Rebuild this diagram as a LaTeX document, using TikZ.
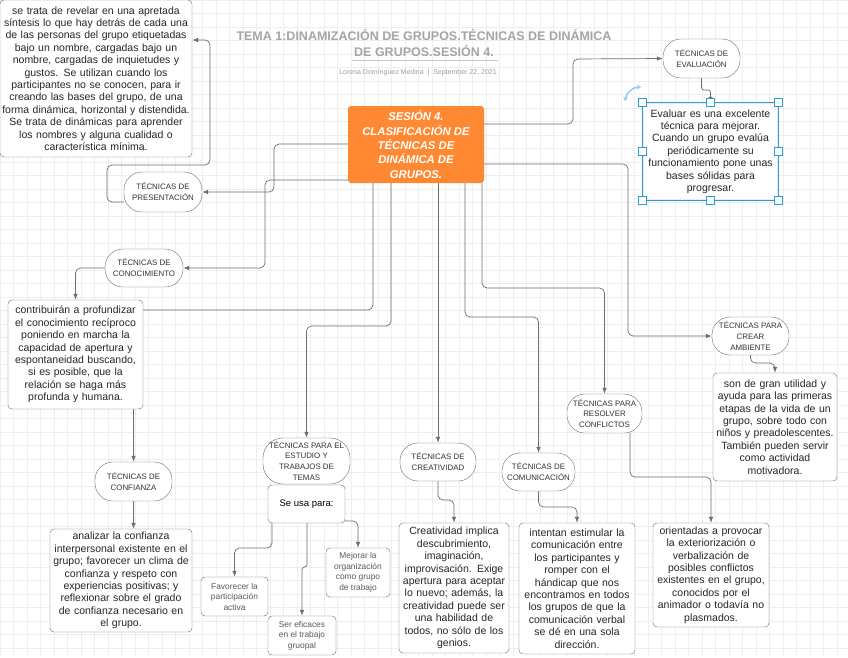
\documentclass[tikz,border=0pt]{standalone}
\usepackage{fontspec}
\setmainfont{Liberation Sans}
\usetikzlibrary{arrows.meta}
\definecolor{naranja}{RGB}{255,136,51}
\definecolor{azulsel}{RGB}{41,156,222}
\definecolor{azulrot}{RGB}{150,205,240}
\definecolor{linea}{RGB}{110,110,110}
\definecolor{titulo}{RGB}{165,165,165}
\pgfdeclarelayer{fondo}
\pgfdeclarelayer{lineas}
\pgfsetlayers{fondo,lineas,main}
\begin{document}
\begin{tikzpicture}[x=1pt, y=-1pt]
\tikzstyle{tecnica} = [draw=linea, fill=white, rounded corners=18pt, align=center, inner sep=0pt, text=black!80, font=\fontsize{7.9}{10.8}\selectfont]
\tikzstyle{texto} = [draw=linea, fill=white, rounded corners=4pt, align=center, inner sep=0pt, text=black!85, font=\fontsize{10.5}{12.4}\selectfont]
\tikzstyle{uso} = [draw=linea, fill=white, rounded corners=4pt, align=center, inner sep=0pt, text=black!65, font=\fontsize{8.4}{10.5}\selectfont]
\tikzstyle{flecha} = [draw=linea, line width=0.7pt, rounded corners=5pt, -{Latex[length=6pt,width=4.5pt]}]
\tikzstyle{asa} = [draw=azulsel, fill=white, line width=1pt, minimum size=8pt, inner sep=0pt]
\clip (0,0) rectangle (848,657);
\begin{pgfonlayer}{fondo}
\fill[white] (0,0) rectangle (848,657);
\draw[gray!13, step=13.5pt] (0pt,-657pt) grid (848pt,0pt);
\end{pgfonlayer}
% cabecera
\node[font=\fontsize{12.5}{16}\selectfont\bfseries, text=titulo, align=center] (titulo) at (424,43) {TEMA 1:DINAMIZACIÓN DE GRUPOS.TÉCNICAS DE DINÁMICA\\DE GRUPOS.SESIÓN 4.};
\draw[gray!45, line width=0.8pt] (352,60) -- (498,60);
\node[font=\fontsize{7}{8}\selectfont, text=gray!75] (autor) at (418,73) {Lorena Domínguez Medina \ |\ \ September 22, 2021};
% nodo central
\node[fill=naranja, rounded corners=3pt, minimum width=136pt, minimum height=77pt, inner sep=0pt, align=center, text=white, font=\fontsize{11.3}{14.3}\selectfont\bfseries\itshape] (sesion) at (416,144.5) {SESIÓN 4.\\CLASIFICACIÓN DE\\TÉCNICAS DE\\DINÁMICA DE\\GRUPOS.};
% tecnicas
\node[tecnica, minimum width=78pt, minimum height=40pt] (tpresentacion) at (163,192) {TÉCNICAS DE\\PRESENTACIÓN};
\node[tecnica, minimum width=78pt, minimum height=38pt] (tconocimiento) at (144,268) {TÉCNICAS DE\\CONOCIMIENTO};
\node[tecnica, minimum width=77pt, minimum height=39pt] (tconfianza) at (133.5,481.5) {TÉCNICAS DE\\CONFIANZA};
\node[tecnica, minimum width=87pt, minimum height=46pt, rounded corners=20pt] (testudio) at (306.5,461) {TÉCNICAS PARA EL\\ESTUDIO Y\\TRABAJOS DE\\TEMAS};
\node[tecnica, minimum width=76pt, minimum height=38pt] (tcreatividad) at (438,462) {TÉCNICAS DE\\CREATIVIDAD};
\node[tecnica, minimum width=73pt, minimum height=38pt] (tcomunicacion) at (538.5,472) {TÉCNICAS DE\\COMUNICACIÓN};
\node[tecnica, minimum width=75pt, minimum height=39pt] (tresolver) at (604.5,413.5) {TÉCNICAS PARA\\RESOLVER\\CONFLICTOS};
\node[tecnica, minimum width=77pt, minimum height=38pt] (tambiente) at (750.5,336) {TÉCNICAS PARA\\CREAR\\AMBIENTE};
\node[tecnica, minimum width=77pt, minimum height=39pt] (tevaluacion) at (701.5,58.5) {TÉCNICAS DE\\EVALUACIÓN};
% descripciones
\node[texto, text width=188pt, minimum width=192pt, minimum height=157pt] (drevelar) at (96,78.5) {se trata de revelar en una apretada\\síntesis lo que hay detrás de cada una\\de las personas del grupo etiquetadas\\bajo un nombre, cargadas bajo un\\nombre, cargadas de inquietudes y\\gustos. Se utilizan cuando los\\participantes no se conocen, para ir\\creando las bases del grupo, de una\\forma dinámica, horizontal y distendida.\\Se trata de dinámicas para aprender\\los nombres y alguna cualidad o\\característica mínima.};
\node[texto, text width=131pt, minimum width=135pt, minimum height=109pt] (dconocimiento) at (75.5,354.5) {contribuirán a profundizar\\el conocimiento recíproco\\poniendo en marcha la\\capacidad de apertura y\\espontaneidad buscando,\\si es posible, que la\\relación se haga más\\profunda y humana.};
\node[texto, text width=138pt, minimum width=142pt, minimum height=103pt] (dconfianza) at (121,580.5) {analizar la confianza\\interpersonal existente en el\\grupo; favorecer un clima de\\confianza y respeto con\\experiencias positivas; y\\reflexionar sobre el grado\\de confianza necesario en\\el grupo.};
\node[texto, text width=106pt, minimum width=110pt, minimum height=130pt] (dcreatividad) at (454,588) {Creatividad implica\\descubrimiento,\\imaginación,\\improvisación. Exige\\apertura para aceptar\\lo nuevo; además, la\\creatividad puede ser\\una habilidad de\\todos, no sólo de los\\genios.};
\node[texto, text width=112pt, minimum width=116pt, minimum height=131pt] (dcomunicacion) at (577,588.5) {intentan estimular la\\comunicación entre\\los participantes y\\romper con el\\hándicap que nos\\encontramos en todos\\los grupos de que la\\comunicación verbal\\se dé en una sola\\dirección.};
\node[texto, text width=112pt, minimum width=116pt, minimum height=104pt] (dresolver) at (711,575) {orientadas a provocar\\la exteriorización o\\verbalización de\\posibles conflictos\\existentes en el grupo,\\conocidos por el\\animador o todavía no\\plasmados.};
\node[texto, text width=120pt, minimum width=124pt, minimum height=108pt] (dambiente) at (775,427) {son de gran utilidad y\\ayuda para las primeras\\etapas de la vida de un\\grupo, sobre todo con\\niños y preadolescentes.\\También pueden servir\\como actividad\\motivadora.};
\node[texto, text width=131pt, minimum width=135pt, minimum height=97pt] (devaluacion) at (710.5,151.5) {Evaluar es una excelente\\técnica para mejorar.\\Cuando un grupo evalúa\\periódicamente su\\funcionamiento pone unas\\bases sólidas para\\progresar.};
% estudio y trabajo
\node[uso, minimum width=77pt, minimum height=38pt, text=black, font=\fontsize{9.5}{11}\selectfont] (seusa) at (306.5,504) {Se usa para:};
\node[uso, minimum width=67pt, minimum height=39pt] (favorecer) at (234.5,596.5) {Favorecer la\\participación\\activa};
\node[uso, minimum width=68pt, minimum height=39pt] (ser) at (302,635.5) {Ser eficaces\\en el trabajo\\gruopal};
\node[uso, minimum width=64pt, minimum height=49pt] (mejorar) at (358,572.5) {Mejorar la\\organización\\como grupo\\de trabajo};
% seleccion
\draw[azulsel, line width=1.2pt] (devaluacion.north west) rectangle (devaluacion.south east);
\foreach \a in {north west, north, north east, east, south east, south, south west, west}
\node[asa] (asa \a) at (devaluacion.\a) {};
\draw[azulrot, line width=1.6pt, {Stealth[length=4pt,width=5pt]}-{Stealth[length=4pt,width=5pt]}] (625,101) to[bend left=40] (641,87);
% conectores
\begin{pgfonlayer}{lineas}
\draw[flecha] ([yshift=-10pt]tpresentacion.west) -| (107,165) -| (210,40) -- (drevelar.east |- 0,40);
\draw[flecha] (sesion.west |- 0,144) -| (274,192) -- (tpresentacion.east);
\draw[flecha] (sesion.west |- 0,180) -| (265,268) -- (tconocimiento.east);
\draw[flecha] (tconocimiento.west) -| (dconocimiento.north);
\foreach \x/\y/\to in {373/310/tconfianza, 391/326/testudio, 465/317/tcomunicacion, 482/288/tresolver}
\draw[flecha] (sesion.south -| \x,0) |- (\to.north |- 0,\y) -- (\to.north);
\draw[flecha] (sesion.south -| tcreatividad.north) -- (tcreatividad.north);
\draw[flecha] (sesion.east |- 0,124) -| (573,59) -- (tevaluacion.west);
\draw[flecha] (sesion.east |- 0,164) -| (628,336) -- (tambiente.west);
\foreach \from/\to/\y in {tambiente/dambiente/363, tcreatividad/dcreatividad/500, tcomunicacion/dcomunicacion/507}
\draw[flecha] (\from.south) |- (\to.north |- 0,\y) -- (\to.north);
\draw[flecha, rounded corners=2.5pt] (tevaluacion.south) |- (devaluacion.north |- 0,90) -- (devaluacion.north);
\draw[flecha] (tresolver.south -| 630,0) |- (dresolver.north |- 0,477) -- (dresolver.north);
\draw[flecha] (tconfianza.south) -- (tconfianza.south |- dconfianza.north);
\draw[flecha] (seusa.south -| 272,0) |- (favorecer.north |- 0,548) -- (favorecer.north);
\draw[flecha, rounded corners=2.5pt] (seusa.south -| 307,0) |- (ser.north |- 0,567) -- (ser.north);
\draw[flecha] (seusa.east |- 0,521) -| (mejorar.north);
\end{pgfonlayer}
\end{tikzpicture}
\end{document}
